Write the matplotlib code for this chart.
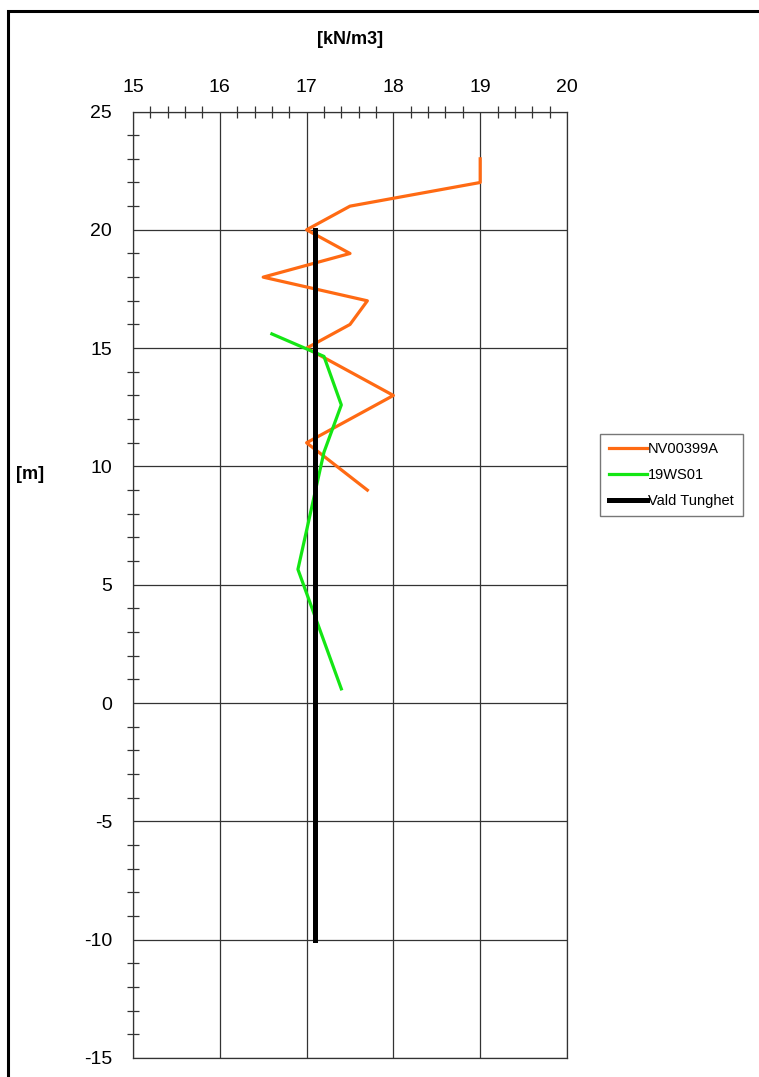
import matplotlib
matplotlib.use('Agg')
import matplotlib.pyplot as plt
from matplotlib.ticker import MultipleLocator
from matplotlib.patches import Rectangle

plt.rcParams['font.family'] = ['Liberation Sans', 'DejaVu Sans']
plt.rcParams['axes.unicode_minus'] = False

# density [kN/m3] vs level [m]
nv_density = [19.0, 19.0, 17.5, 17.0, 17.5, 16.5, 17.7, 17.5, 17.0, 18.0, 17.0, 17.7]
nv_level = [23, 22, 21, 20, 19, 18, 17, 16, 15, 13, 11, 9]

ws_density = [16.6, 17.2, 17.4, 17.2, 16.9, 17.4]
ws_level = [15.6, 14.65, 12.6, 10.6, 5.65, 0.6]

vald_density = [17.1, 17.1]
vald_level = [20, -10]

W, H = 759, 1077
fig = plt.figure(figsize=(W / 100, H / 100), dpi=100)

# outer frame (cut off on right and bottom like the original)
fig.patches.append(Rectangle((8 / W, -0.05), 1.2, 1 - 11 / H + 0.05, transform=fig.transFigure,
                             fill=False, edgecolor='black', linewidth=2.2))

ax = fig.add_axes([133 / W, 1 - 1058 / H, (567 - 133) / W, (1058 - 111.5) / H])

ax.plot(nv_density, nv_level, color='#ff6a13', lw=2.3, label='NV00399A')
ax.plot(ws_density, ws_level, color='#14e614', lw=2.3, label='19WS01')
ax.plot(vald_density, vald_level, color='black', lw=3.6, label='Vald Tunghet')

ax.set_xlim(15, 20)
ax.set_ylim(-15, 25)
ax.xaxis.set_major_locator(MultipleLocator(1))
ax.xaxis.set_minor_locator(MultipleLocator(0.2))
ax.yaxis.set_major_locator(MultipleLocator(5))
ax.yaxis.set_minor_locator(MultipleLocator(1))
ax.xaxis.tick_top()
ax.tick_params(which='both', direction='inout', color='#333333', labelsize=14)
ax.tick_params(which='major', length=0)
ax.tick_params(which='minor', length=8, width=0.9)
ax.tick_params(axis='y', which='major', pad=15)
ax.tick_params(axis='x', which='major', pad=11)
ax.grid(True, which='major', color='#333333', lw=0.9)
for s in ax.spines.values():
    s.set_color('#333333')
    s.set_linewidth(0.9)

fig.text(350 / W, 1 - 40 / H, '[kN/m3]', fontsize=13, fontweight='bold', ha='center', va='center')
fig.text(30 / W, 1 - 475 / H, '[m]', fontsize=13, fontweight='bold', ha='center', va='center')

leg = ax.legend(loc='center left', bbox_to_anchor=(600 / W, 1 - 475 / H), bbox_transform=fig.transFigure,
                fontsize=10.5, frameon=True, fancybox=False, edgecolor='#555555', handlelength=2.6,
                handletextpad=0.1, labelspacing=0.8, borderpad=0.6, borderaxespad=0)
leg.get_frame().set_linewidth(1.0)

fig.savefig('out.png', dpi=100)
